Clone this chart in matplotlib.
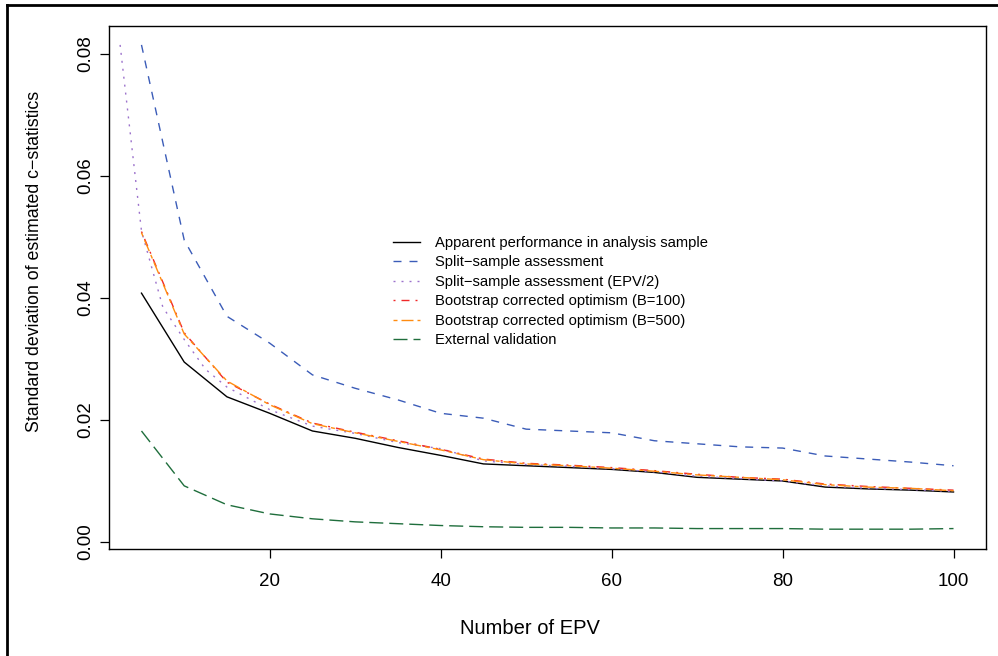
import matplotlib
matplotlib.use("Agg")
import matplotlib.pyplot as plt
from matplotlib.lines import Line2D

plt.rcParams["font.family"] = ["Liberation Sans", "DejaVu Sans"]
plt.rcParams["lines.scale_dashes"] = False

# EPV grid
epv = [5, 10, 15, 20, 25, 30, 35, 40, 45, 50, 55, 60, 65, 70, 75, 80, 85, 90, 95, 100]

apparent = [0.0408, 0.0295, 0.0238, 0.0211, 0.0182, 0.0170, 0.0155, 0.0142, 0.0128, 0.0125,
            0.0122, 0.0119, 0.0114, 0.0106, 0.0103, 0.0100, 0.0090, 0.0087, 0.0085, 0.0082]
split = [0.0815, 0.0495, 0.0370, 0.0326, 0.0274, 0.0252, 0.0233, 0.0211, 0.0203, 0.0185,
         0.0182, 0.0179, 0.0166, 0.0161, 0.0156, 0.0154, 0.0141, 0.0136, 0.0131, 0.0125]
boot100 = [0.0509, 0.0343, 0.0262, 0.0226, 0.0195, 0.0180, 0.0166, 0.0152, 0.0136, 0.0129,
           0.0126, 0.0122, 0.0117, 0.0111, 0.0106, 0.0103, 0.0095, 0.0091, 0.0088, 0.0085]
boot500 = [0.0507, 0.0341, 0.0264, 0.0225, 0.0194, 0.0179, 0.0165, 0.0151, 0.0135, 0.0128,
           0.0125, 0.0121, 0.0116, 0.0110, 0.0106, 0.0102, 0.0094, 0.0090, 0.0088, 0.0084]
external = [0.0182, 0.0092, 0.0061, 0.0046, 0.0038, 0.0033, 0.0030, 0.0027, 0.0025, 0.0024,
            0.0024, 0.0023, 0.0023, 0.0022, 0.0022, 0.0022, 0.0021, 0.0021, 0.0021, 0.0022]

epv_half = [2.5, 5, 7.5, 10, 12.5, 15, 20, 25, 30, 35, 40, 45, 50, 55, 60, 65, 70, 75, 80,
            85, 90, 95, 100]
split_half = [0.0815, 0.0510, 0.0385, 0.0332, 0.0283, 0.0254, 0.0217, 0.0190, 0.0178, 0.0163,
              0.0153, 0.0133, 0.0127, 0.0124, 0.0120, 0.0115, 0.0108, 0.0104, 0.0100, 0.0092,
              0.0088, 0.0086, 0.0083]

labels = ["Apparent performance in analysis sample",
          "Split\u2212sample assessment",
          "Split\u2212sample assessment (EPV/2)",
          "Bootstrap corrected optimism (B=100)",
          "Bootstrap corrected optimism (B=500)",
          "External validation"]

fig = plt.figure(figsize=(9.98, 6.56), dpi=100)
ax = fig.add_axes([109 / 998, 1 - 549 / 656, (986 - 109) / 998, (549 - 26) / 656])

u = 1.44  # one R line-type unit in points
lw = 1.0
ax.plot(epv, apparent, color="black", lw=lw, ls="-", label=labels[0])
ax.plot(epv, split, color="#3b5cb8", lw=lw, ls=(0, (4 * u, 4 * u)), label=labels[1])
ax.plot(epv_half, split_half, color="#9c72cc", lw=lw, ls=(0, (1 * u, 3 * u)), label=labels[2])
ax.plot(epv, boot100, color="#f02828", lw=lw, ls=(0, (1 * u, 3 * u, 4 * u, 3 * u)), label=labels[3])
ax.plot(epv, boot500, color="#ff8c10", lw=lw, ls=(0, (2 * u, 2 * u, 6 * u, 2 * u)), label=labels[4])
ax.plot(epv, external, color="#1f6e3c", lw=lw, ls=(0, (7 * u, 3 * u)), label=labels[5])

ax.set_xlim(1.2, 103.8)
ax.set_ylim(-0.00115, 0.0846)
ax.set_xticks([20, 40, 60, 80, 100])
ax.set_yticks([0.00, 0.02, 0.04, 0.06, 0.08])
ax.set_yticklabels(["0.00", "0.02", "0.04", "0.06", "0.08"], rotation=90, va="center")
ax.tick_params(axis="both", direction="out", length=6.5, width=0.9, labelsize=13.5, color="black")
ax.tick_params(axis="x", pad=10.5)
ax.tick_params(axis="y", pad=4)
for s in ax.spines.values():
    s.set_linewidth(1.0)

ax.set_xlabel("Number of EPV", fontsize=14.5)
ax.xaxis.set_label_coords((529.5 - 109) / 877, -(628 - 549) / 523)
ax.xaxis.label.set_va("center")
ax.set_ylabel("Standard deviation of estimated c\u2212statistics", fontsize=12.8)
ax.yaxis.set_label_coords(-(109 - 35) / 877, (549 - 261) / 523)
ax.yaxis.label.set_va("center")

ax.legend(loc="upper left", bbox_to_anchor=((393 - 109) / 877, (549 - 236) / 523),
          frameon=False, fontsize=10.6, handlelength=1.85, handletextpad=1.0,
          labelspacing=0.37, borderpad=0, borderaxespad=0)

# outer frame of the page
fig.add_artist(Line2D([6.5 / 998, 6.5 / 998], [0, 1 - 4.5 / 656], transform=fig.transFigure,
                      color="black", lw=2.0))
fig.add_artist(Line2D([6.5 / 998, 1], [1 - 4.5 / 656, 1 - 4.5 / 656], transform=fig.transFigure,
                      color="black", lw=2.0))

fig.savefig("out.png", dpi=100)
